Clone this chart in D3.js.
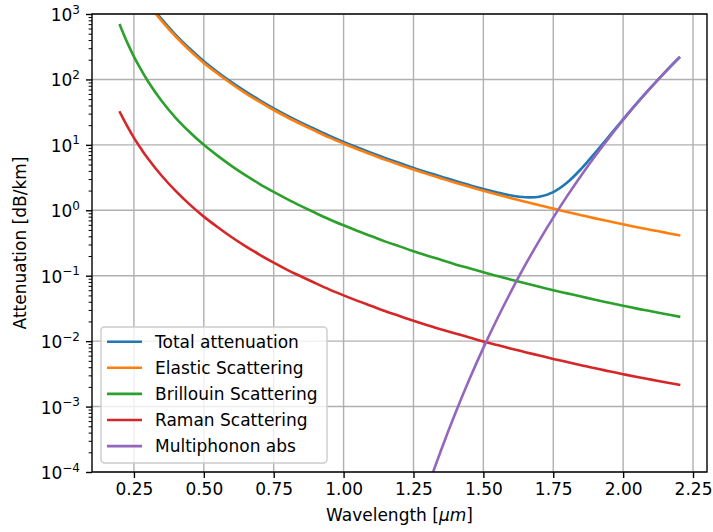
<!DOCTYPE html>
<html><head><meta charset="utf-8">
<script src="https://cdn.jsdelivr.net/npm/d3@7"></script>
<style>body{margin:0;background:#fff} text{font-family:"DejaVu Sans",sans-serif}</style>
</head><body><svg id="c" width="713" height="532"></svg>
<script>
const wavelength = [0.20,0.225,0.25,0.275,0.30,0.35,0.40,0.45,0.50,0.55,0.60,0.65,0.70,0.75,0.80,0.85,0.90,0.95,1.00,1.05,1.10,1.15,1.20,1.25,1.30,1.35,1.40,1.45,1.50,1.55,1.60,1.65,1.70,1.75,1.80,1.85,1.90,1.95,2.00,2.05,2.10,2.15,2.20];
const totalAttenuation = [8399,5145,3316,2241,1560,826,477,294,190,129,90.2,64.9,48.0,36.2,27.8,21.7,17.2,13.7,11.1,9.11,7.55,6.25,5.28,4.45,3.79,3.26,2.80,2.43,2.12,1.87,1.68,1.58,1.61,1.90,2.66,4.30,7.56,13.6,24.6,43.8,76.0,129.5,214.4];
const elasticScattering = [7690,4750,3080,2090,1460,776,449,277,179,122,85.1,61.2,45.3,34.1,26.2,20.5,16.2,12.9,10.5,8.59,7.11,5.89,4.97,4.19,3.57,3.07,2.64,2.29,1.99,1.74,1.53,1.35,1.19,1.06,0.942,0.841,0.752,0.678,0.611,0.551,0.501,0.456,0.415];
const brillouinScattering = [676,375,223,142,93.8,46.3,25.7,15.6,10.0,6.78,4.74,3.41,2.52,1.91,1.47,1.15,0.908,0.724,0.589,0.483,0.401,0.332,0.281,0.237,0.202,0.174,0.149,0.130,0.113,0.0989,0.0867,0.0767,0.0679,0.0601,0.0537,0.0480,0.0429,0.0386,0.0348,0.0314,0.0286,0.0260,0.0237];
const ramanScattering = [31.3,19.6,12.8,8.79,6.19,3.34,1.96,1.22,0.80,0.55,0.387,0.281,0.209,0.158,0.122,0.0964,0.0766,0.0614,0.0501,0.0413,0.0344,0.0286,0.0242,0.0205,0.0175,0.0151,0.0131,0.0114,0.00991,0.00871,0.00766,0.00679,0.00603,0.00535,0.00479,0.00429,0.00384,0.00347,0.00313,0.00283,0.00258,0.00236,0.00215];
const multiphononAbs = [null,null,null,null,null,null,null,null,null,null,null,null,null,null,null,null,null,null,null,null,null,null,null,1.29e-5,5.66e-5,2.23e-4,7.96e-4,2.61e-3,7.88e-3,0.0222,0.0585,0.146,0.344,0.771,1.66,3.41,6.76,12.9,24.0,43.2,75.5,129,214];

const seriesNames = ["Total attenuation","Elastic Scattering","Brillouin Scattering","Raman Scattering","Multiphonon abs"];
const seriesValues = [totalAttenuation, elasticScattering, brillouinScattering, ramanScattering, multiphononAbs];
const colors = ["#1f77b4","#ff7f0e","#2ca02c","#d62728","#9467bd"];
const xTicks = [0.25,0.50,0.75,1.00,1.25,1.50,1.75,2.00,2.25];
const yExponents = [-4,-3,-2,-1,0,1,2,3];

const L = 92, R = 707, T = 14, B = 472;
const svg = d3.select("#c");
const x = d3.scaleLinear().domain([0.1, 2.3]).range([L, R]);
const y = d3.scaleLog().domain([1e-4, 1e3]).range([B, T]);

svg.append("defs").append("clipPath").attr("id","clip")
  .append("rect").attr("x",L).attr("y",T).attr("width",R-L).attr("height",B-T);

// grid
const grid = svg.append("g").attr("stroke","#b0b0b0").attr("stroke-width",1.4);
xTicks.forEach(t => grid.append("line").attr("x1",x(t)).attr("x2",x(t)).attr("y1",T).attr("y2",B));
yExponents.forEach(e => grid.append("line").attr("x1",L).attr("x2",R).attr("y1",y(Math.pow(10,e))).attr("y2",y(Math.pow(10,e))));

// lines
const plot = svg.append("g").attr("clip-path","url(#clip)");
seriesValues.forEach((vals, i) => {
  const data = wavelength.map((w, j) => [w, vals[j]]);
  const line = d3.line().defined(d => d[1] != null)
    .x(d => x(d[0])).y(d => y(d[1])).curve(d3.curveCatmullRom.alpha(0.5));
  plot.append("path").datum(data).attr("d", line)
    .attr("fill","none").attr("stroke",colors[i]).attr("stroke-width",2.6)
    .attr("stroke-linejoin","round").attr("stroke-linecap","square");
});

// axes
const xAxis = d3.axisBottom(x).tickValues(xTicks).tickFormat(d3.format(".2f")).tickSize(6).tickPadding(5);
const gx = svg.append("g").attr("transform",`translate(0,${B})`).call(xAxis);
gx.select(".domain").remove();
gx.selectAll(".tick line").attr("stroke","#000").attr("stroke-width",1.4);
gx.selectAll(".tick text").attr("font-size",17).attr("fill","#000").attr("font-family","DejaVu Sans");

const minorTicks = [];
for (let e = -4; e < 3; e++) for (let m = 2; m <= 9; m++) minorTicks.push(m*Math.pow(10,e));
const gyMinor = svg.append("g").attr("transform",`translate(${L},0)`)
  .call(d3.axisLeft(y).tickValues(minorTicks).tickFormat("").tickSize(3.4));
gyMinor.select(".domain").remove();
gyMinor.selectAll(".tick line").attr("stroke","#000").attr("stroke-width",1);

const gy = svg.append("g").attr("transform",`translate(${L},0)`)
  .call(d3.axisLeft(y).tickValues(yExponents.map(e => Math.pow(10,e))).tickFormat("").tickSize(6));
gy.select(".domain").remove();
gy.selectAll(".tick line").attr("stroke","#000").attr("stroke-width",1.4);
gy.selectAll(".tick").each(function(d){
  const e = Math.round(Math.log10(d));
  const t = d3.select(this).append("text").attr("x",-12).attr("y",6.5)
    .attr("text-anchor","end").attr("fill","#000").attr("font-size",17);
  t.append("tspan").text("10");
  t.append("tspan").attr("dy",-7.4).attr("font-size",12).text(e < 0 ? "\u2212" + (-e) : String(e));
});

// spines
svg.append("rect").attr("x",L).attr("y",T).attr("width",R-L).attr("height",B-T)
  .attr("fill","none").attr("stroke","#000").attr("stroke-width",1.4);

// axis labels
const xl = svg.append("text").attr("x",(L+R)/2).attr("y",521).attr("text-anchor","middle")
  .attr("font-size",17).attr("fill","#000");
xl.append("tspan").text("Wavelength [");
xl.append("tspan").attr("font-style","italic").text("\u03bcm");
xl.append("tspan").text("]");
svg.append("text").attr("transform",`translate(26,${(T+B)/2}) rotate(-90)`)
  .attr("text-anchor","middle").attr("font-size",17).attr("fill","#000").text("Attenuation [dB/km]");

// legend
const lg = svg.append("g");
lg.append("rect").attr("x",101).attr("y",327).attr("width",226).attr("height",136)
  .attr("rx",3.5).attr("fill","#fff").attr("fill-opacity",0.8)
  .attr("stroke","#cccccc").attr("stroke-width",1.4);
seriesNames.forEach((n, i) => {
  const yy = 341.7 + i*26.1;
  lg.append("line").attr("x1",107).attr("x2",142).attr("y1",yy).attr("y2",yy)
    .attr("stroke",colors[i]).attr("stroke-width",2.6);
  lg.append("text").attr("x",155).attr("y",yy+6.2).attr("font-size",17).attr("fill","#000").text(n);
});
</script></body></html>
